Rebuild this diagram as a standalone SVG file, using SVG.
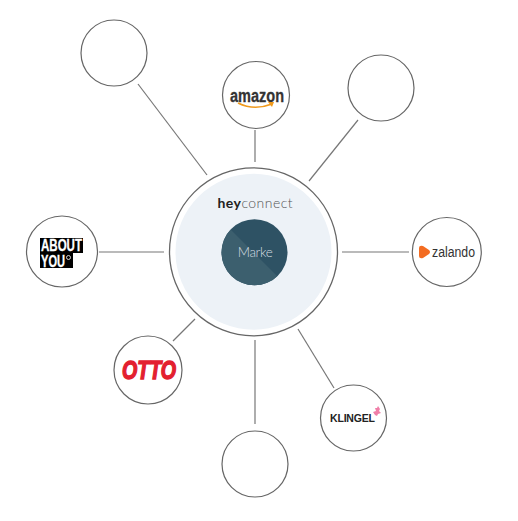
<svg xmlns="http://www.w3.org/2000/svg" width="518" height="521" viewBox="0 0 518 521">
<style>
.c{fill:#fff;stroke:#666;stroke-width:1.2}
.l{stroke:#777;stroke-width:1.2;fill:none}
text{font-family:"Liberation Sans",Arial,sans-serif}
.light{font-family:"Lato","Open Sans",sans-serif;font-weight:300}
</style>
<defs><clipPath id="dc"><circle cx="254.500" cy="252.300" r="33"/></clipPath></defs>
<rect width="518" height="521" fill="#fff"/>
<g id="connectors" class="l">
<line x1="138" y1="84" x2="207" y2="175"/>
<line x1="255" y1="130" x2="255" y2="162"/>
<line x1="358" y1="120" x2="309" y2="181"/>
<line x1="342" y1="252" x2="409" y2="252"/>
<line x1="298" y1="329" x2="334" y2="388"/>
<line x1="255" y1="340" x2="255" y2="424"/>
<line x1="195" y1="319" x2="173" y2="341"/>
<line x1="99" y1="252" x2="164" y2="252"/>
</g>
<g id="hub">
<circle cx="253.500" cy="251.800" r="84" fill="#fff" stroke="#666" stroke-width="1.300"/>
<circle cx="253.500" cy="251.800" r="78" fill="#edf2f7"/>
<text class="light" x="217.500" y="208" font-size="14" fill="#555" textLength="75" lengthAdjust="spacing"><tspan font-weight="700" fill="#222">hey</tspan>connect</text>
<circle cx="254.500" cy="252.300" r="33" fill="#2e5264"/>
<path d="M221 220L291 290L221 290Z" fill="#3c5f6e" clip-path="url(#dc)"/>
<text class="light" x="237.700" y="257" font-size="13.500" fill="#d5dde1" textLength="35" lengthAdjust="spacing">Marke</text>
</g>
<g id="node-top-left"><circle class="c" cx="114" cy="53" r="33"/></g>
<g id="node-amazon"><circle class="c" cx="256" cy="95" r="33.500"/>
<text x="230" y="101.500" font-size="17.500" font-weight="700" fill="#333" stroke="#333" stroke-width=".3" textLength="54" lengthAdjust="spacingAndGlyphs">amazon</text>
<path d="M238 103Q254 111 272 104" fill="none" stroke="#f09a1c" stroke-width="1.600"/>
<path d="M268 102L274 102L272 107Z" fill="#f09a1c"/></g>
<g id="node-top-right"><circle class="c" cx="381" cy="88" r="33"/></g>
<g id="node-zalando"><circle class="c" cx="446.800" cy="252" r="34.500"/>
<path d="M419 248Q419 245 423 246L429 250Q431 252 429 254L423 258Q419 259 419 256Z" fill="#f36c21"/>
<text x="432" y="256.500" font-size="14" fill="#333" textLength="43" lengthAdjust="spacingAndGlyphs">zalando</text></g>
<g id="node-klingel"><circle class="c" cx="353.500" cy="418" r="33"/>
<text x="330" y="422" font-size="10.500" font-weight="700" fill="#222" textLength="45" lengthAdjust="spacing">KLINGEL</text>
<path d="M375 415l-2-3 3-1-1-3 2 0 1-2 2 3-1 2 2 2-3 1-1 2Z" fill="#f07fa8"/></g>
<g id="node-bottom"><circle class="c" cx="255" cy="464" r="33"/></g>
<g id="node-otto"><circle class="c" cx="148" cy="370" r="34"/>
<text x="122" y="379" font-size="25" font-weight="700" font-style="italic" fill="#e3202f" stroke="#e3202f" stroke-width="1.400" textLength="54" lengthAdjust="spacingAndGlyphs">OTTO</text></g>
<g id="node-aboutyou"><circle class="c" cx="62" cy="251.500" r="35.500"/>
<rect x="40" y="238" width="43" height="15" fill="#000"/>
<rect x="40" y="252" width="33" height="16" fill="#000"/>
<text x="41" y="251" font-size="16" font-weight="700" fill="#fff" stroke="#fff" stroke-width=".3" textLength="41" lengthAdjust="spacingAndGlyphs">ABOUT</text>
<text x="41" y="266.500" font-size="16" font-weight="700" fill="#fff" stroke="#fff" stroke-width=".3" textLength="24" lengthAdjust="spacingAndGlyphs">YOU</text>
<circle cx="68.500" cy="257.500" r="2" fill="none" stroke="#fff" stroke-width=".8"/></g>
</svg>
